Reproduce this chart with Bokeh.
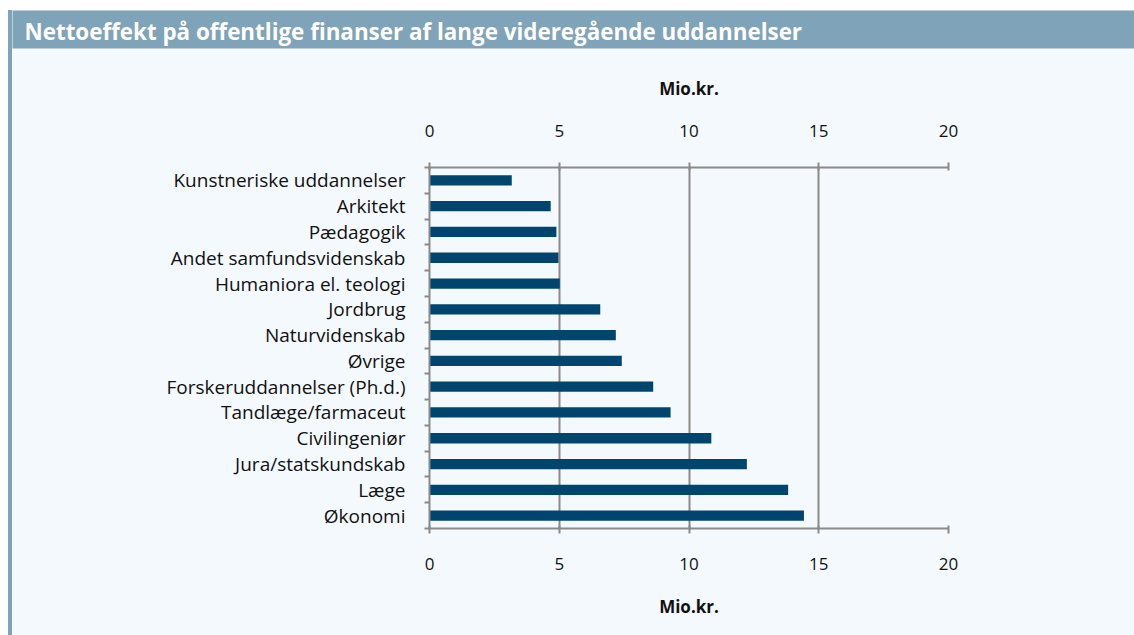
from bokeh.plotting import figure
from bokeh.models import Range1d, LinearAxis, FixedTicker, Grid, ColumnDataSource, Label, Spacer
from bokeh.layouts import column, row
from bokeh.embed import file_html
from bokeh.resources import INLINE

title_text = "Nettoeffekt på offentlige finanser af lange videregående uddannelser"
categories = ["Kunstneriske uddannelser", "Arkitekt", "Pædagogik", "Andet samfundsvidenskab",
              "Humaniora el. teologi", "Jordbrug", "Naturvidenskab", "Øvrige",
              "Forskeruddannelser (Ph.d.)", "Tandlæge/farmaceut", "Civilingeniør",
              "Jura/statskundskab", "Læge", "Økonomi"]
values = [3.17, 4.67, 4.89, 4.97, 5.02, 6.58, 7.18, 7.41, 8.62, 9.29, 10.86, 12.23, 13.82, 14.43]
x_ticks = [0, 5, 10, 15, 20]
x_label = "Mio.kr."

HEAD = "#7fa3b8"
BG = "#f4f9fd"
BAR = "#00456d"
AXC = "#8a8a8a"
FONT = "Open Sans"

n = len(categories)
ypos = [2 * (n - 1 - i) + 1 for i in range(n)]
src = ColumnDataSource(dict(y=ypos, v=values, name=categories))

TOP = 10          # white margin above the header
H = 635 - TOP
W = 1134 - 12

# white left margin and coloured strip (plain layout elements, no frame alignment)
margin = Spacer(width=8, height=H)
strip = Spacer(width=4, height=H, styles={"background-color": HEAD})

# main chart
p = figure(width=W, height=H, x_range=Range1d(0, 20), y_range=Range1d(0, 2 * n),
           output_backend="svg", toolbar_location=None, x_axis_location=None, y_axis_location=None,
           min_border_left=417, min_border_right=186, min_border_top=157, min_border_bottom=107,
           background_fill_color=BG, border_fill_color=BG, outline_line_color=None)
for g in list(p.grid):
    g.visible = False

xt = FixedTicker(ticks=x_ticks)
for loc, st in (("above", 26), ("below", 24)):
    ax = LinearAxis(ticker=xt, axis_label=x_label,
                    axis_line_color=AXC, axis_line_width=2,
                    major_tick_line_color=AXC, major_tick_line_width=2,
                    major_tick_out=5, major_tick_in=3,
                    minor_tick_line_color=None,
                    major_label_text_font=FONT, major_label_text_font_size="17px",
                    major_label_text_color="#111111", major_label_standoff=st,
                    axis_label_text_font=FONT, axis_label_text_font_size="17px",
                    axis_label_text_font_style="bold", axis_label_text_color="#111111",
                    axis_label_standoff=22)
    p.add_layout(ax, loc)

yt = FixedTicker(ticks=ypos, minor_ticks=list(range(0, 2 * n + 1, 2)))
yax = LinearAxis(ticker=yt, major_label_overrides={y: c for y, c in zip(ypos, categories)},
                 axis_line_color=AXC, axis_line_width=2,
                 major_tick_line_color=None, major_tick_out=0, major_tick_in=0,
                 minor_tick_line_color=AXC, minor_tick_line_width=2, minor_tick_out=5, minor_tick_in=0,
                 major_label_text_font=FONT, major_label_text_font_size="19px",
                 major_label_text_color="#111111", major_label_standoff=19)
p.add_layout(yax, "left")

# header band with title
p.add_layout(Label(x=0, y=0, x_units="canvas", y_units="canvas", text=title_text,
                   text_font=FONT, text_font_style="bold", text_font_size="22.4px",
                   text_color="white", text_baseline="top", text_align="left",
                   background_fill_color=HEAD, background_fill_alpha=1,
                   padding=dict(left=12, right=W, top=5, bottom=2)), "above")

p.add_layout(Grid(dimension=0, ticker=xt, grid_line_color=AXC, grid_line_width=2))

p.hbar(y="y", right="v", left=0, height=0.8, source=src, fill_color=BAR, line_color=None)

layout = column(Spacer(width=1134, height=TOP), row(margin, strip, p))
open("out.html", "w").write(file_html(layout, INLINE))
